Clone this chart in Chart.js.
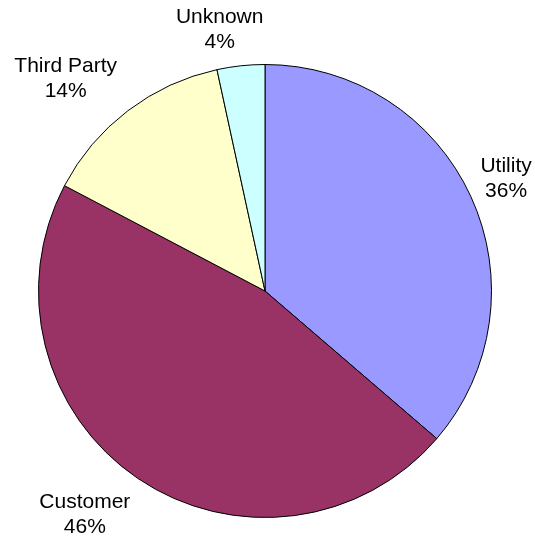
<!DOCTYPE html>
<html lang="en">
<head>
    <meta charset="UTF-8">
    <title>Pie</title>
    <script src="https://cdn.jsdelivr.net/npm/chart.js"></script>
    <style>
        body { margin: 0; background: #fff; }
        canvas { display: block; }
    </style>
</head>
<body>
    <canvas id="pieChart" width="535" height="542"></canvas>

    <script>
        const categories = ['Utility', 'Customer', 'Third Party', 'Unknown'];
        const shares = [36.3, 46.4, 13.9, 3.4];
        const shareLabels = ['36%', '46%', '14%', '4%'];
        const colors = ['#9999FF', '#993366', '#FFFFCC', '#CCFFFF'];

        // nudges so the labels sit where Excel put them
        const labelNudge = [[8, 1], [-36, 17], [-44, -2], [-18, 0]];

        const outsideLabels = {
            id: 'outsideLabels',
            afterDatasetsDraw(chart) {
                const ctx = chart.ctx;
                const arcs = chart.getDatasetMeta(0).data;
                ctx.save();
                ctx.font = '21px "Liberation Sans", Arial, sans-serif';
                ctx.fillStyle = '#000';
                ctx.textAlign = 'center';
                ctx.textBaseline = 'alphabetic';
                arcs.forEach((arc, i) => {
                    const mid = (arc.startAngle + arc.endAngle) / 2;
                    const d = arc.outerRadius + 30;
                    const x = arc.x + Math.cos(mid) * d + labelNudge[i][0];
                    const y = arc.y + Math.sin(mid) * d + labelNudge[i][1];
                    ctx.fillText(categories[i], x, y - 12.5);
                    ctx.fillText(shareLabels[i], x, y + 12.5);
                });
                ctx.restore();
            }
        };

        new Chart(document.getElementById('pieChart'), {
            type: 'pie',
            data: {
                labels: categories,
                datasets: [{
                    data: shares,
                    backgroundColor: colors,
                    borderColor: '#000',
                    borderWidth: 1
                }]
            },
            options: {
                responsive: false,
                animation: false,
                layout: { padding: { left: 38, right: 43, top: 64, bottom: 24 } },
                plugins: {
                    legend: { display: false },
                    tooltip: { enabled: false }
                }
            },
            plugins: [outsideLabels]
        });
    </script>
</body>
</html>
